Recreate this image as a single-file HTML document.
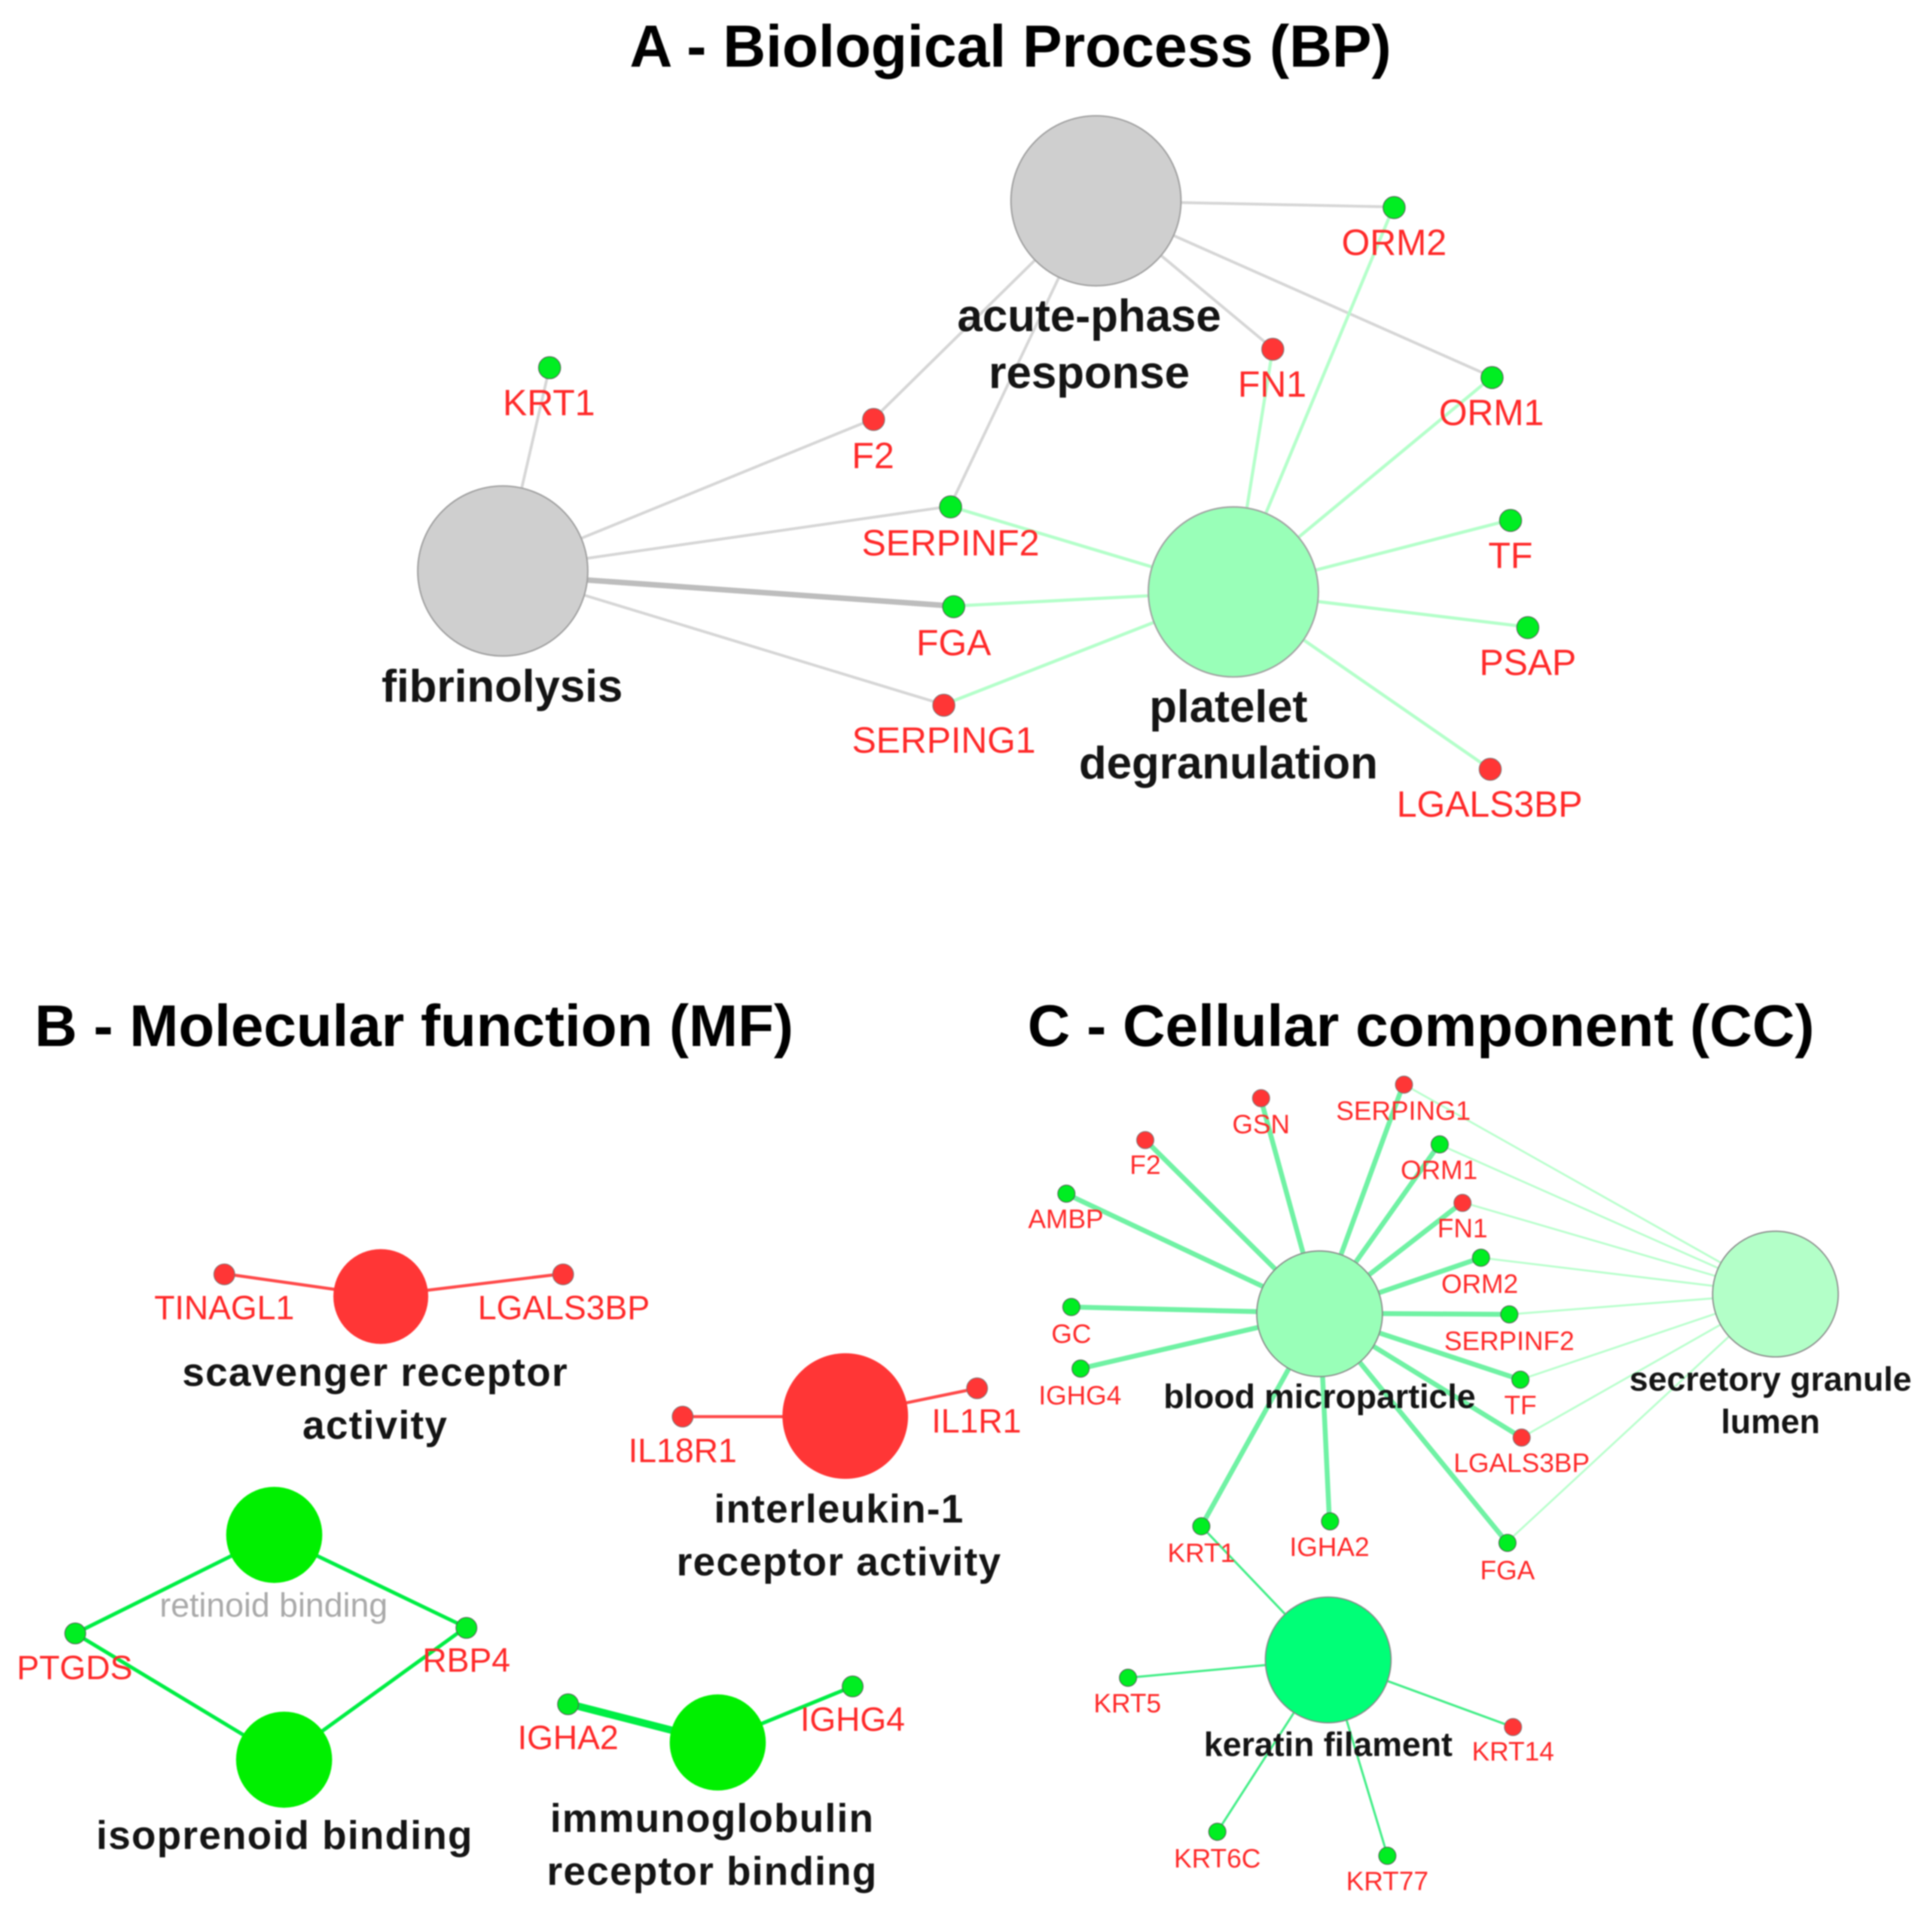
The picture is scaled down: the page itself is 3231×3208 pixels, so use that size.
<!DOCTYPE html>
<html><head><meta charset="utf-8"><title>Diagram</title>
<style>
html,body{margin:0;padding:0;background:#fff;width:3231px;height:3208px;overflow:hidden}
svg{display:block;filter:blur(1.1px)}
text{font-family:"Liberation Sans",sans-serif;text-anchor:middle}
.t{font-weight:bold;font-size:48.100px;fill:#000;text-anchor:start}
.b{font-weight:bold;fill:#151515}
.r{fill:#ff2a2a}
.g{fill:#00ee22;stroke:#555;stroke-width:.6}
.d{fill:#ff3636;stroke:#777;stroke-width:.6}
</style></head><body>
<svg xmlns="http://www.w3.org/2000/svg" width="3231" height="3208" viewBox="0 0 1568 1557">
<rect width="1568" height="1557" fill="#fff"/>
<!-- Panel A edges -->
<g stroke="#d6d6d6" stroke-width="2.300">
<line x1="889" y1="163" x2="1131" y2="168"/>
<line x1="889" y1="163" x2="1211" y2="306"/>
<line x1="889" y1="163" x2="1033" y2="283"/>
<line x1="889" y1="163" x2="709" y2="340"/>
<line x1="889" y1="163" x2="771" y2="411"/>
<line x1="408" y1="463" x2="446" y2="298"/>
<line x1="408" y1="463" x2="709" y2="340"/>
<line x1="408" y1="463" x2="771" y2="411"/>
<line x1="408" y1="463" x2="766" y2="572"/>
<line x1="408" y1="466" x2="774" y2="492" stroke="#bdbdbd" stroke-width="4.500"/>
</g>
<g stroke="#b4ffca" stroke-width="2.600">
<line x1="1001" y1="480" x2="1033" y2="283"/>
<line x1="1001" y1="480" x2="1131" y2="168"/>
<line x1="1001" y1="480" x2="1211" y2="306"/>
<line x1="1001" y1="480" x2="771" y2="411"/>
<line x1="1001" y1="480" x2="774" y2="492"/>
<line x1="1001" y1="480" x2="766" y2="572"/>
<line x1="1001" y1="480" x2="1226" y2="422"/>
<line x1="1001" y1="480" x2="1240" y2="509"/>
<line x1="1001" y1="480" x2="1209" y2="624"/>
</g>
<!-- Panel A nodes -->
<g stroke="#a0a0a0" stroke-width="1.200">
<circle cx="889.500" cy="163" r="69" fill="#cfcfcf"/>
<circle cx="408" cy="463.500" r="69" fill="#cfcfcf"/>
<circle cx="1001" cy="480.500" r="69" fill="#99ffb8"/>
</g>
<g class="g">
<circle cx="1131.500" cy="168.500" r="9"/><circle cx="1211" cy="306.500" r="9"/><circle cx="446" cy="298.500" r="9"/>
<circle cx="771.500" cy="411.500" r="9"/><circle cx="774" cy="492.500" r="9"/><circle cx="1226" cy="422.500" r="9"/><circle cx="1240" cy="509.500" r="9"/>
</g>
<g class="d">
<circle cx="1033" cy="283.500" r="9"/><circle cx="709" cy="340.500" r="9"/><circle cx="766" cy="572.500" r="9"/><circle cx="1209.500" cy="624.500" r="9"/>
</g>
<!-- Panel B edges -->
<g stroke="#ff4a4a" stroke-width="2.500">
<line x1="182" y1="1034" x2="309" y2="1052"/>
<line x1="457" y1="1034" x2="309" y2="1052"/>
<line x1="554" y1="1150" x2="686" y2="1150"/>
<line x1="793" y1="1127" x2="686" y2="1149"/>
</g>
<g stroke="#00ee44" stroke-width="3">
<line x1="61" y1="1326" x2="222" y2="1246"/>
<line x1="378" y1="1321" x2="222" y2="1246"/>
<line x1="61" y1="1326" x2="230" y2="1428"/>
<line x1="378" y1="1321" x2="230" y2="1428"/>
<line x1="692" y1="1369" x2="582" y2="1414"/>
<line x1="461" y1="1383" x2="582" y2="1414" stroke-width="6"/>
</g>
<!-- Panel B nodes -->
<circle cx="309" cy="1052.500" r="38.500" fill="#ff3636"/>
<circle cx="686" cy="1149.500" r="51" fill="#ff3636"/>
<circle cx="222.500" cy="1246" r="39" fill="#00f000"/>
<circle cx="230.500" cy="1428.500" r="39" fill="#00f000"/>
<circle cx="582.500" cy="1414.500" r="39" fill="#00f000"/>
<g class="d">
<circle cx="182" cy="1034.500" r="8.500"/><circle cx="457" cy="1034.500" r="8.500"/><circle cx="554" cy="1150" r="8.500"/><circle cx="793" cy="1127" r="8.500"/>
</g>
<g class="g">
<circle cx="61" cy="1326" r="8.500"/><circle cx="378.500" cy="1321.500" r="8.500"/><circle cx="461" cy="1383.500" r="8.500"/><circle cx="692" cy="1369" r="8.500"/>
</g>
<!-- Panel C edges -->
<g stroke="#b8ffcc" stroke-width="1.600">
<line x1="1441" y1="1050" x2="1139" y2="880"/>
<line x1="1441" y1="1050" x2="1168" y2="929"/>
<line x1="1441" y1="1050" x2="1187" y2="976"/>
<line x1="1441" y1="1050" x2="1202" y2="1021"/>
<line x1="1441" y1="1050" x2="1225" y2="1067"/>
<line x1="1441" y1="1050" x2="1234" y2="1120"/>
<line x1="1441" y1="1050" x2="1235" y2="1167"/>
<line x1="1441" y1="1050" x2="1223" y2="1252"/>
</g>
<g stroke="#70f2a4" stroke-width="4">
<line x1="1071" y1="1066" x2="1139" y2="880"/>
<line x1="1071" y1="1066" x2="1023" y2="891"/>
<line x1="1071" y1="1066" x2="929" y2="925"/>
<line x1="1071" y1="1066" x2="1168" y2="929"/>
<line x1="1071" y1="1066" x2="1187" y2="976"/>
<line x1="1071" y1="1066" x2="865" y2="969"/>
<line x1="1071" y1="1066" x2="1202" y2="1021"/>
<line x1="1071" y1="1066" x2="869" y2="1061"/>
<line x1="1071" y1="1066" x2="1225" y2="1067"/>
<line x1="1071" y1="1066" x2="877" y2="1111"/>
<line x1="1071" y1="1066" x2="1234" y2="1120"/>
<line x1="1071" y1="1066" x2="1235" y2="1167"/>
<line x1="1071" y1="1066" x2="975" y2="1239"/>
<line x1="1071" y1="1066" x2="1079" y2="1235"/>
<line x1="1071" y1="1066" x2="1223" y2="1252"/>
</g>
<g stroke="#44ee88" stroke-width="1.800">
<line x1="1078" y1="1347" x2="975" y2="1239"/>
<line x1="1078" y1="1347" x2="915" y2="1362"/>
<line x1="1078" y1="1347" x2="1228" y2="1402"/>
<line x1="1078" y1="1347" x2="988" y2="1487"/>
<line x1="1078" y1="1347" x2="1126" y2="1506"/>
</g>
<!-- Panel C nodes -->
<g stroke="#888" stroke-width="1">
<circle cx="1071" cy="1066.500" r="51" fill="#99ffb8"/>
<circle cx="1441" cy="1050.500" r="51" fill="#b3ffc8"/>
<circle cx="1078" cy="1347.500" r="51" fill="#00ff77"/>
</g>
<g class="d">
<circle cx="1139.500" cy="880.500" r="7"/><circle cx="1023.500" cy="891.500" r="7"/><circle cx="929.500" cy="925.500" r="7"/><circle cx="1187" cy="976.500" r="7"/><circle cx="1235" cy="1167" r="7"/><circle cx="1228" cy="1402" r="7"/>
</g>
<g class="g">
<circle cx="1168.500" cy="929" r="7"/><circle cx="865.500" cy="969" r="7"/><circle cx="1202" cy="1021" r="7"/><circle cx="869.500" cy="1061" r="7"/><circle cx="1225" cy="1067" r="7"/><circle cx="877" cy="1111" r="7"/><circle cx="1234" cy="1120" r="7"/><circle cx="975" cy="1239" r="7"/><circle cx="1079.500" cy="1235" r="7"/><circle cx="1223.500" cy="1252.500" r="7"/><circle cx="915.500" cy="1362" r="7"/><circle cx="988" cy="1487" r="7"/><circle cx="1126" cy="1506.500" r="7"/>
</g>
<!-- Titles -->
<text class="t" x="511" y="54">A - Biological Process (BP)</text>
<text class="t" x="28" y="849" style="font-size:47.800px">B - Molecular function (MF)</text>
<text class="t" x="834" y="849" style="font-size:47.900px">C - Cellular component (CC)</text>
<!-- Panel A labels -->
<g class="b" font-size="36.700">
<text x="884" y="269">acute-phase</text>
<text x="884" y="315">response</text>
<text x="407.500" y="569.500">fibrinolysis</text>
<text x="997" y="586">platelet</text>
<text x="997" y="632">degranulation</text>
</g>
<g class="r" font-size="29.500">
<text x="1131.500" y="207">ORM2</text>
<text x="1032.500" y="322">FN1</text>
<text x="1210.500" y="345">ORM1</text>
<text x="708.500" y="380">F2</text>
<text x="445.500" y="337">KRT1</text>
<text x="771.500" y="451">SERPINF2</text>
<text x="774" y="532">FGA</text>
<text x="766" y="611">SERPING1</text>
<text x="1226" y="461">TF</text>
<text x="1240" y="548">PSAP</text>
<text x="1209" y="663">LGALS3BP</text>
</g>
<!-- Panel B labels -->
<g class="b" font-size="32.400" letter-spacing=".8">
<text x="304.500" y="1125">scavenger receptor</text>
<text x="304.500" y="1168">activity</text>
<text x="681" y="1236">interleukin-1</text>
<text x="681" y="1279">receptor activity</text>
<text x="231" y="1501">isoprenoid binding</text>
<text x="578" y="1487">immunoglobulin</text>
<text x="578" y="1530">receptor binding</text>
</g>
<g class="r" font-size="27.300">
<text x="182" y="1071">TINAGL1</text>
<text x="457.500" y="1071">LGALS3BP</text>
<text x="554" y="1187">IL18R1</text>
<text x="792.500" y="1163">IL1R1</text>
<text x="60.500" y="1363">PTGDS</text>
<text x="378.500" y="1357">RBP4</text>
<text x="461" y="1420">IGHA2</text>
<text x="692" y="1405">IGHG4</text>
</g>
<text x="222" y="1312.500" font-size="27.300" fill="#aaaaaa">retinoid binding</text>
<!-- Panel C labels -->
<g class="b" font-size="27.300">
<text x="1071" y="1143">blood microparticle</text>
<text x="1437" y="1129">secretory granule</text>
<text x="1437" y="1163.500">lumen</text>
<text x="1078" y="1425.500">keratin filament</text>
</g>
<g class="r" font-size="21.600">
<text x="1139" y="909">SERPING1</text>
<text x="1023.500" y="920">GSN</text>
<text x="929.500" y="953">F2</text>
<text x="1168" y="957">ORM1</text>
<text x="1187" y="1004.500">FN1</text>
<text x="865" y="997">AMBP</text>
<text x="1201" y="1049.500">ORM2</text>
<text x="869.500" y="1090">GC</text>
<text x="1225" y="1096">SERPINF2</text>
<text x="876.500" y="1140">IGHG4</text>
<text x="1234" y="1148">TF</text>
<text x="1235" y="1195">LGALS3BP</text>
<text x="975" y="1268">KRT1</text>
<text x="1079" y="1263">IGHA2</text>
<text x="1223.500" y="1282">FGA</text>
<text x="915" y="1390">KRT5</text>
<text x="1228" y="1429">KRT14</text>
<text x="988" y="1516">KRT6C</text>
<text x="1126" y="1534.500">KRT77</text>
</g>
</svg>
</body></html>
